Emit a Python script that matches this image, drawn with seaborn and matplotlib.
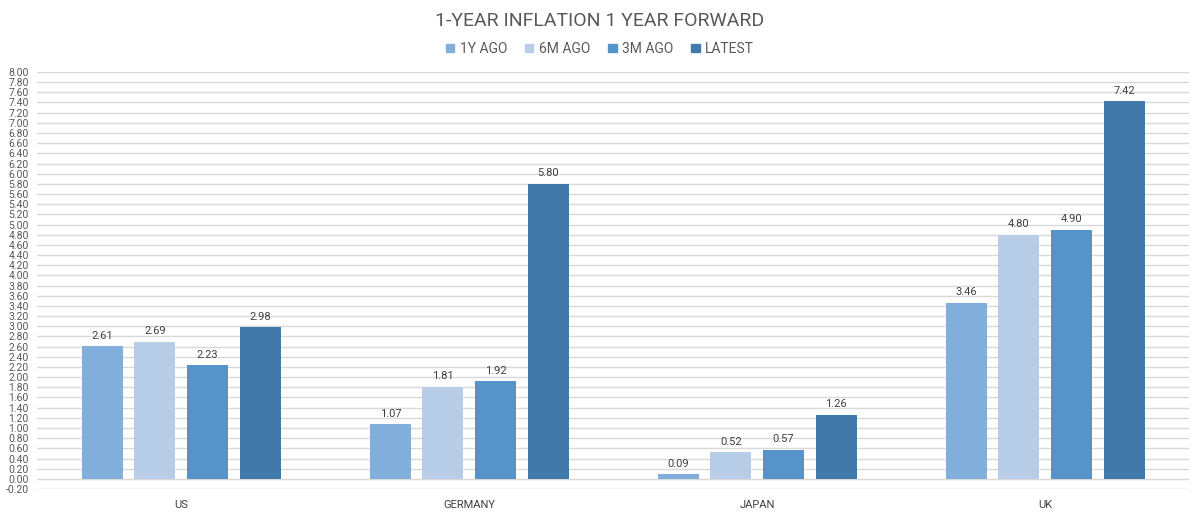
import numpy as np
import pandas as pd
import matplotlib
matplotlib.use("Agg")
import matplotlib.pyplot as plt
import seaborn as sns

# datos
paises = ["US", "GERMANY", "JAPAN", "UK"]
series = ["1Y AGO", "6M AGO", "3M AGO", "LATEST"]
hace_1a = [2.61, 1.07, 0.09, 3.46]
hace_6m = [2.69, 1.81, 0.52, 4.80]
hace_3m = [2.23, 1.92, 0.57, 4.90]
ultimo = [2.98, 5.80, 1.26, 7.42]
colores = ["#82aedc", "#b8cde8", "#5593c9", "#4179aa"]

df = pd.DataFrame({
    "pais": paises * 4,
    "serie": np.repeat(series, 4),
    "valor": hace_1a + hace_6m + hace_3m + ultimo,
})

sns.set_style("white")
plt.rcParams["font.family"] = ["Roboto", "DejaVu Sans"]

fig = plt.figure(figsize=(12, 5.14), dpi=100)
ax = fig.add_axes([0.031, 0.0486, 0.96, 0.8114])

sns.barplot(data=df, x="pais", y="valor", hue="serie", hue_order=series,
            order=paises, palette=colores, saturation=1, width=0.73, gap=0.22,
            edgecolor="none", legend=False, ax=ax, zorder=3)

# etiquetas de datos
for cont in ax.containers:
    ax.bar_label(cont, fmt="%.2f", padding=4, fontsize=8, color="#404040")

ax.set_ylim(-0.2, 8.0)
ax.set_yticks(np.round(np.arange(-0.2, 8.01, 0.2), 2))
ax.yaxis.set_major_formatter(matplotlib.ticker.FormatStrFormatter("%.2f"))
ax.grid(axis="y", color="#d9d9d9", linewidth=1, zorder=0)
ax.set_axisbelow(True)
for s in ax.spines.values():
    s.set_visible(False)
ax.tick_params(axis="y", length=0, labelsize=7.5, labelcolor="#595959", pad=6)
ax.tick_params(axis="x", length=0, labelsize=8, labelcolor="#404040", pad=8)
ax.set_xlabel("")
ax.set_ylabel("")
ax.set_xlim(-0.5, 3.5)

# titulo y leyenda
fig.text(0.5, 0.96, "1-YEAR INFLATION 1 YEAR FORWARD", ha="center", va="center",
         fontsize=14, color="#595959")
handles = [plt.Rectangle((0, 0), 1, 1, color=c) for c in colores]
fig.legend(handles, series, loc="center", bbox_to_anchor=(0.5, 0.905), ncol=4,
           frameon=False, fontsize=10, labelcolor="#595959", handlelength=0.6,
           handleheight=0.6, handletextpad=0.4, columnspacing=1.3)

fig.savefig("out.png", dpi=100, facecolor="white")
